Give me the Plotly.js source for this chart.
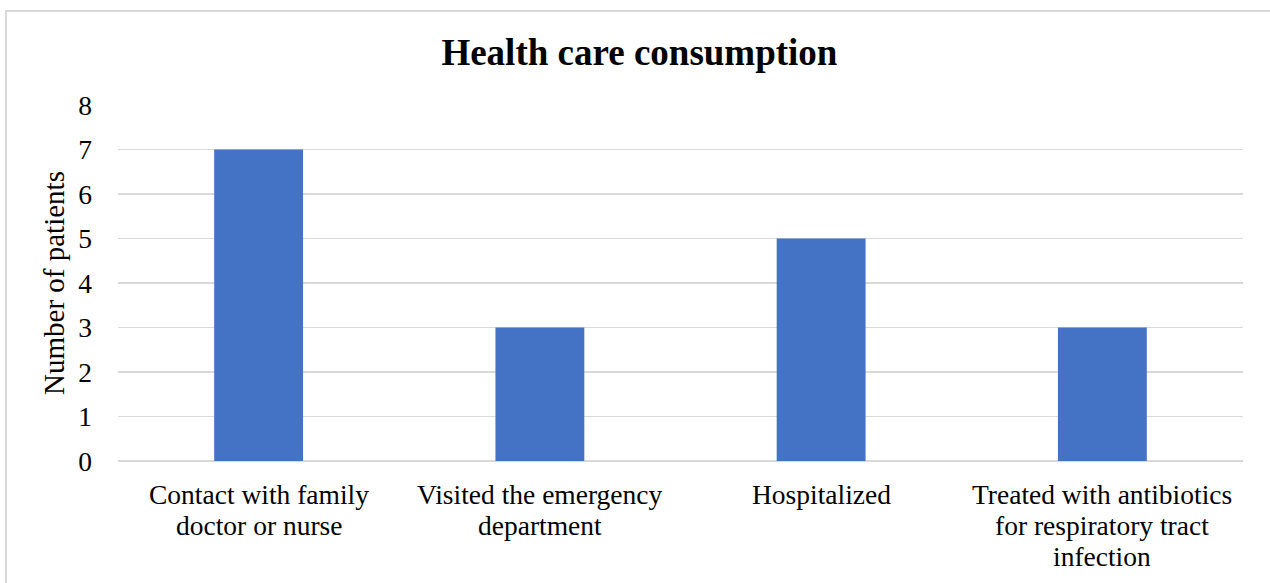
<!DOCTYPE html>
<html>
<head>
<meta charset="utf-8">
<script src="https://cdn.plot.ly/plotly-3.0.1.min.js"></script>
<style>
  html, body { margin: 0; padding: 0; background: #fff; overflow: hidden; }
  #frame { position: absolute; left: 5px; top: 10px; width: 1270px; height: 600px;
           border: 2px solid #d9d9d9; box-sizing: border-box; pointer-events: none; z-index: 2; }
  #chart { position: absolute; left: 0; top: 0; width: 1270px; height: 583px; }
</style>
</head>
<body>
<div id="chart"></div>
<div id="frame"></div>
<script>
// Health care consumption: patients per type of care
const categories = [
  "Contact with family doctor or nurse",
  "Visited the emergency department",
  "Hospitalized",
  "Treated with antibiotics for respiratory tract infection"
];
// Line breaks used for the category labels under each bar
const categoryLines = [
  ["Contact with family", "doctor or nurse"],
  ["Visited the emergency", "department"],
  ["Hospitalized"],
  ["Treated with antibiotics", "for respiratory tract", "infection"]
];
const patients = [7, 3, 5, 3];
const yTicks = [0, 1, 2, 3, 4, 5, 6, 7, 8];

const serif = "Liberation Serif, Times New Roman, serif";
const labelSize = 27.5;
const lineStep = 31;

// Category labels drawn line by line for a tighter line spacing than tick labels allow
const labelAnnotations = [];
categories.forEach((cat, i) => {
  categoryLines[i].forEach((line, j) => {
    labelAnnotations.push({
      x: cat, xref: "x",
      y: 0, yref: "paper",
      text: line,
      showarrow: false,
      xanchor: "center", yanchor: "middle",
      yshift: -(33 + j * lineStep),
      font: { family: serif, size: labelSize, color: "#000" }
    });
  });
});

Plotly.newPlot("chart", [{
  type: "bar",
  x: categories,
  y: patients,
  marker: { color: "#4472C4" },
  hoverinfo: "skip"
}], {
  width: 1270,
  height: 583,
  margin: { l: 118, r: 27, t: 105, b: 122 },
  paper_bgcolor: "#fff",
  plot_bgcolor: "#fff",
  bargap: 0.684,
  showlegend: false,
  title: {
    text: "<b>Health care consumption</b>",
    font: { family: serif, size: 37, color: "#000" },
    x: 0.5035, xanchor: "center",
    y: 1 - 52 / 583, yanchor: "middle"
  },
  annotations: labelAnnotations,
  xaxis: {
    type: "category",
    showgrid: false,
    showline: false,
    ticks: "",
    showticklabels: false
  },
  yaxis: {
    range: [0, 8],
    tickvals: yTicks,
    ticktext: yTicks.map(String),
    showgrid: true,
    gridcolor: "#d9d9d9",
    gridwidth: 1.5,
    zeroline: true,
    zerolinecolor: "#d9d9d9",
    zerolinewidth: 2,
    showline: false,
    ticks: "",
    ticklabelstandoff: 25,
    tickfont: { family: serif, size: labelSize, color: "#000" },
    title: {
      text: "Number of patients",
      font: { family: serif, size: 29, color: "#000" },
      standoff: 5
    }
  }
}, { displayModeBar: false, staticPlot: true });
</script>
</body>
</html>
